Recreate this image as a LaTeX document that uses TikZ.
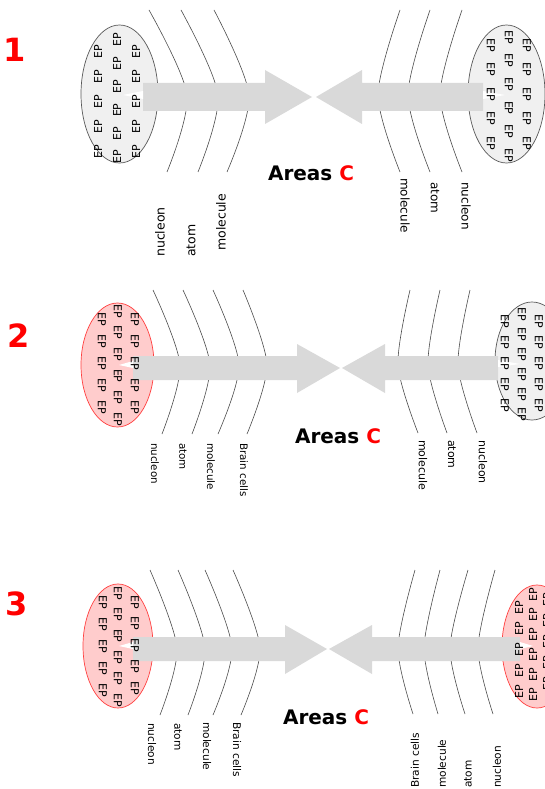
\documentclass[tikz,border=0pt]{standalone}
\usepackage{fontspec}
\setmainfont{DejaVu Sans}
\newcommand\EPcol[6]{\foreach \k in {1,...,#5}{\node[ep,rotate=#6] (#1-\k) at (#2,{#3+(\k-1)*#4}) {EP};}}
\begin{document}
\begin{tikzpicture}[x=1pt,y=-1pt,
  ep/.style={font=\fontsize{11}{11}\selectfont, inner sep=0},
  lbl/.style={inner sep=0, anchor=west},
  num/.style={text=red, font=\bfseries\fontsize{32}{32}\selectfont, inner sep=0},
  areas/.style={font=\bfseries\fontsize{20}{20}\selectfont, inner sep=0},
  ellgray/.style={draw=black!65, fill=black!6, line width=0.7},
  ellpink/.style={draw=red!75, fill=red!20, line width=0.7},
  arcline/.style={draw=black!70, line width=0.6},
  bigarrow/.style={fill=black!15},
  wedge/.style={fill=white}]
\useasboundingbox (0,0) rectangle (544,789);
\fill[white] (0,0) rectangle (544,789);

% ---------------- Panel 1 ----------------
\node[num] (n1) at (15,50) {1};
\foreach \a/\b/\c in {149/187/167, 181/218/198, 214/249/227}
  \draw[arcline] plot[smooth] coordinates {(\a,10) (\b,95) (\c,172)};
\foreach \a/\b/\c in {400/378/400, 430/408/430, 462/440/462}
  \draw[arcline] plot[smooth] coordinates {(\a,10) (\b,95) (\c,172)};
\draw[ellgray] (119.5,94) ellipse[x radius=38.5, y radius=69];
\draw[ellgray] (506.5,94) ellipse[x radius=38.5, y radius=69];
\fill[bigarrow] (143,83) -- (265,83) -- (265,70) -- (312,97) -- (265,124) -- (265,111) -- (143,111) -- cycle;
\fill[wedge] (123,95) -- (143,91) -- (143,99) -- cycle;
\fill[bigarrow] (483,83) -- (362,83) -- (362,70) -- (316,97) -- (362,124) -- (362,111) -- (483,111) -- cycle;
\fill[wedge] (505,95) -- (483,91) -- (483,99) -- cycle;
\EPcol{p1la}{98}{52}{25}{5}{90}
\EPcol{p1lb}{117}{40}{23.4}{6}{90}
\EPcol{p1lc}{136}{52}{25}{5}{90}
\EPcol{p1ra}{491}{45}{24.5}{5}{-90}
\EPcol{p1rb}{509}{37}{23.6}{6}{-90}
\EPcol{p1rc}{527}{45}{24.5}{5}{-90}
\begin{scope}[every node/.append style={font=\fontsize{12.5}{13}\selectfont}]
\node[lbl,rotate=90] (p1l1) at (160,257) {nucleon};
\node[lbl,rotate=90] (p1l2) at (191,257) {atom};
\node[lbl,rotate=90] (p1l3) at (221,251) {molecule};
\end{scope}
\begin{scope}[every node/.append style={font=\fontsize{12}{13}\selectfont}]
\node[lbl,rotate=-90] (p1r1) at (405,178) {molecule};
\node[lbl,rotate=-90] (p1r2) at (435,182) {atom};
\node[lbl,rotate=-90] (p1r3) at (466,182) {nucleon};
\end{scope}
\node[areas] (a1) at (311,173) {Areas \textcolor{red}{C}};

% ---------------- Panel 2 ----------------
\node[num] (n2) at (19,336) {2};
\foreach \a/\b/\c in {153/180/162, 183/210/192, 213/239/218, 243/267/247}
  \draw[arcline] plot[smooth] coordinates {(\a,290) (\b,365) (\c,434)};
\foreach \a/\b/\c in {410/398/418, 440/428/447, 470/458/477}
  \draw[arcline] plot[smooth] coordinates {(\a,290) (\b,365) (\c,433)};
\draw[ellpink] (117.5,365) ellipse[x radius=36.5, y radius=62];
\draw[ellgray] (532,361) ellipse[x radius=37, y radius=59];
\fill[bigarrow] (133,356) -- (297,356) -- (297,344) -- (340,368) -- (297,393) -- (297,380) -- (133,380) -- cycle;
\fill[wedge] (119,365) -- (133,361) -- (133,368) -- cycle;
\fill[bigarrow] (498,356) -- (385,356) -- (385,344) -- (342,368) -- (385,393) -- (385,380) -- (498,380) -- cycle;
\fill[wedge] (520,364) -- (498,360) -- (498,367) -- cycle;
\EPcol{p2la}{102}{319}{22}{5}{-90}
\EPcol{p2lb}{118}{311}{21.6}{6}{-90}
\EPcol{p2lc}{135}{319}{22}{5}{-90}
\EPcol{p2ra}{505}{321}{21}{5}{-90}
\EPcol{p2rb}{522}{314}{20}{6}{-90}
\EPcol{p2rc}{539}{321}{21}{5}{-90}
\begin{scope}[every node/.append style={font=\fontsize{10.3}{11}\selectfont}]
\node[lbl,rotate=-90] (p2l1) at (155,443) {nucleon};
\node[lbl,rotate=-90] (p2l2) at (183,443) {atom};
\node[lbl,rotate=-90] (p2l3) at (211,443) {molecule};
\node[lbl,rotate=-90] (p2l4) at (244,443) {Brain cells};
\end{scope}
\begin{scope}[every node/.append style={font=\fontsize{11}{12}\selectfont}]
\node[lbl,rotate=-90] (p2r1) at (423,440) {molecule};
\node[lbl,rotate=-90] (p2r2) at (452,440) {atom};
\node[lbl,rotate=-90] (p2r3) at (483,440) {nucleon};
\end{scope}
\node[areas] (a2) at (338,436) {Areas \textcolor{red}{C}};

% ---------------- Panel 3 ----------------
\node[num] (n3) at (17,604) {3};
\foreach \a/\b/\c in {150/177/160, 178/205/188, 205/232/213, 233/260/241}
  \draw[arcline] plot[smooth] coordinates {(\a,570) (\b,648) (\c,715)};
\foreach \a/\b/\c in {415/398/413, 440/424/438, 468/450/465, 495/478/493}
  \draw[arcline] plot[smooth] coordinates {(\a,570) (\b,648) (\c,714)};
\draw[ellpink] (118,646) ellipse[x radius=35, y radius=62];
\draw[ellpink] (537,646.5) ellipse[x radius=35, y radius=61.5];
\fill[bigarrow] (133,637) -- (285,637) -- (285,625) -- (327,649) -- (285,674) -- (285,661) -- (133,661) -- cycle;
\fill[wedge] (119,646) -- (133,642) -- (133,649) -- cycle;
\fill[bigarrow] (520,637) -- (372,637) -- (372,625) -- (329,649) -- (372,674) -- (372,661) -- (520,661) -- cycle;
\fill[wedge] (533,646) -- (520,642) -- (520,649) -- cycle;
\EPcol{p3la}{103}{602}{22}{5}{-90}
\EPcol{p3lb}{118}{593}{21.4}{6}{-90}
\EPcol{p3lc}{135}{602}{21.5}{5}{-90}
\EPcol{p3ra}{519}{608}{21}{5}{90}
\EPcol{p3rb}{533}{595}{20}{6}{90}
\EPcol{p3rc}{547}{600}{21}{5}{90}
\begin{scope}[every node/.append style={font=\fontsize{10.6}{11}\selectfont}]
\node[lbl,rotate=-90] (p3l1) at (152,723) {nucleon};
\node[lbl,rotate=-90] (p3l2) at (178,723) {atom};
\node[lbl,rotate=-90] (p3l3) at (207,722) {molecule};
\node[lbl,rotate=-90] (p3l4) at (237,722) {Brain cells};
\node[lbl,rotate=90] (p3r1) at (415,788) {Brain cells};
\node[lbl,rotate=90] (p3r2) at (442,788) {molecule};
\node[lbl,rotate=90] (p3r3) at (468,788) {atom};
\node[lbl,rotate=90] (p3r4) at (497,788) {nucleon};
\end{scope}
\node[areas] (a3) at (326,717) {Areas \textcolor{red}{C}};
\end{tikzpicture}
\end{document}
